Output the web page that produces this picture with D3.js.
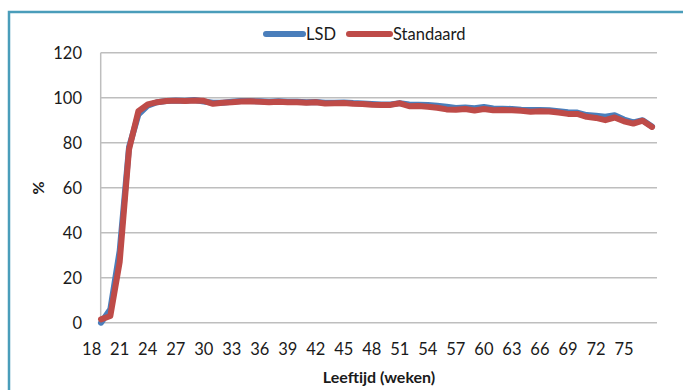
<!DOCTYPE html>
<html><head><meta charset="utf-8">
<script src="https://cdn.jsdelivr.net/npm/d3@7"></script>
<style>body{margin:0;background:#fff}svg{display:block}text{font-family:Lato,"Open Sans",sans-serif;fill:#1a1a1a}</style>
</head><body><svg id="c" width="683" height="390"></svg>
<script>
const weeks = d3.range(19, 79);
const lsd = [0,6,32,78,92.5,96.5,98,98.5,98.8,98.6,99,98.3,97.8,97.8,98.2,98.5,98.5,98.4,98.2,98.4,98.2,98.2,98,98.1,97.8,97.8,97.9,97.6,97.4,97.2,97,97,97.6,97,96.9,96.8,96.4,96,95.4,95.6,95.3,95.9,95.2,95.1,95,94.7,94.5,94.5,94.4,94,93.5,93.4,92.3,92,91.5,92.2,90.3,89,90,87.2];
const standaard = [1.5,3,27,77,94,97,98,98.5,98.7,98.5,98.8,98.6,97.3,97.8,98,98.3,98.4,98.2,98,98.2,98,98,97.8,98,97.4,97.5,97.6,97.3,97.2,96.9,96.8,96.8,97.5,96.2,96.3,96,95.5,94.8,94.6,95,94.3,95,94.4,94.5,94.4,94.2,93.8,94,93.9,93.4,92.8,92.8,91.5,91,90,91.2,89.5,88.5,89.8,87];
const xTicks = d3.range(18, 76, 3);
const yTicks = [0,20,40,60,80,100,120];
const seriesNames = ["LSD","Standaard"];
const colors = ["#4A7EBB","#BE4B48"];

const svg = d3.select("#c");
svg.append("rect").attr("x",9).attr("y",12).attr("width",700).attr("height",400)
  .attr("fill","none").attr("stroke","#4A9DBA").attr("stroke-width",2.5);

const x = d3.scaleLinear().domain([19,78]).range([101,652]);
const y = d3.scaleLinear().domain([0,120]).range([322.7,52.7]);

const g = svg.append("g");
g.selectAll(".grid").data(yTicks).join("line")
  .attr("x1",100.7).attr("x2",657).attr("y1",d=>y(d)).attr("y2",d=>y(d))
  .attr("stroke","#BEBEBE").attr("stroke-width",1.5);
g.append("line").attr("x1",100.7).attr("x2",100.7).attr("y1",y(120)).attr("y2",y(0))
  .attr("stroke","#BEBEBE").attr("stroke-width",1.5);

g.selectAll(".yl").data(yTicks).join("text")
  .attr("x",82).attr("y",d=>y(d)).attr("dy","0.36em").attr("text-anchor","end")
  .attr("font-size",16.5).text(d=>d);
g.selectAll(".xl").data(xTicks).join("text")
  .attr("x",d=>x(d)).attr("y",349).attr("dy","0.36em").attr("text-anchor","middle")
  .attr("font-size",16.5).text(d=>d);

svg.append("text").attr("x",379).attr("y",377).attr("dy","0.36em").attr("text-anchor","middle")
  .attr("font-size",16).attr("font-weight","bold").text("Leeftijd (weken)");
svg.append("text").attr("transform","translate(38,188) rotate(-90)").attr("dy","0.36em")
  .attr("text-anchor","middle").attr("font-size",16).attr("font-weight","bold").text("%");

const line = d3.line().x((d,i)=>x(weeks[i])).y(d=>y(d));
[lsd, standaard].forEach((s,k)=>{
  svg.append("path").datum(s).attr("d",line).attr("fill","none")
    .attr("stroke",colors[k]).attr("stroke-width",6)
    .attr("stroke-linejoin","round").attr("stroke-linecap","round");
});

const leg = [{x1:266,x2:303,tx:306},{x1:349,x2:390,tx:393}];
seriesNames.forEach((n,k)=>{
  svg.append("line").attr("x1",leg[k].x1).attr("x2",leg[k].x2).attr("y1",34).attr("y2",34)
    .attr("stroke",colors[k]).attr("stroke-width",6).attr("stroke-linecap","round");
  svg.append("text").attr("x",leg[k].tx).attr("y",34).attr("dy","0.36em")
    .attr("font-size",16.5).text(n);
});
</script></body></html>
